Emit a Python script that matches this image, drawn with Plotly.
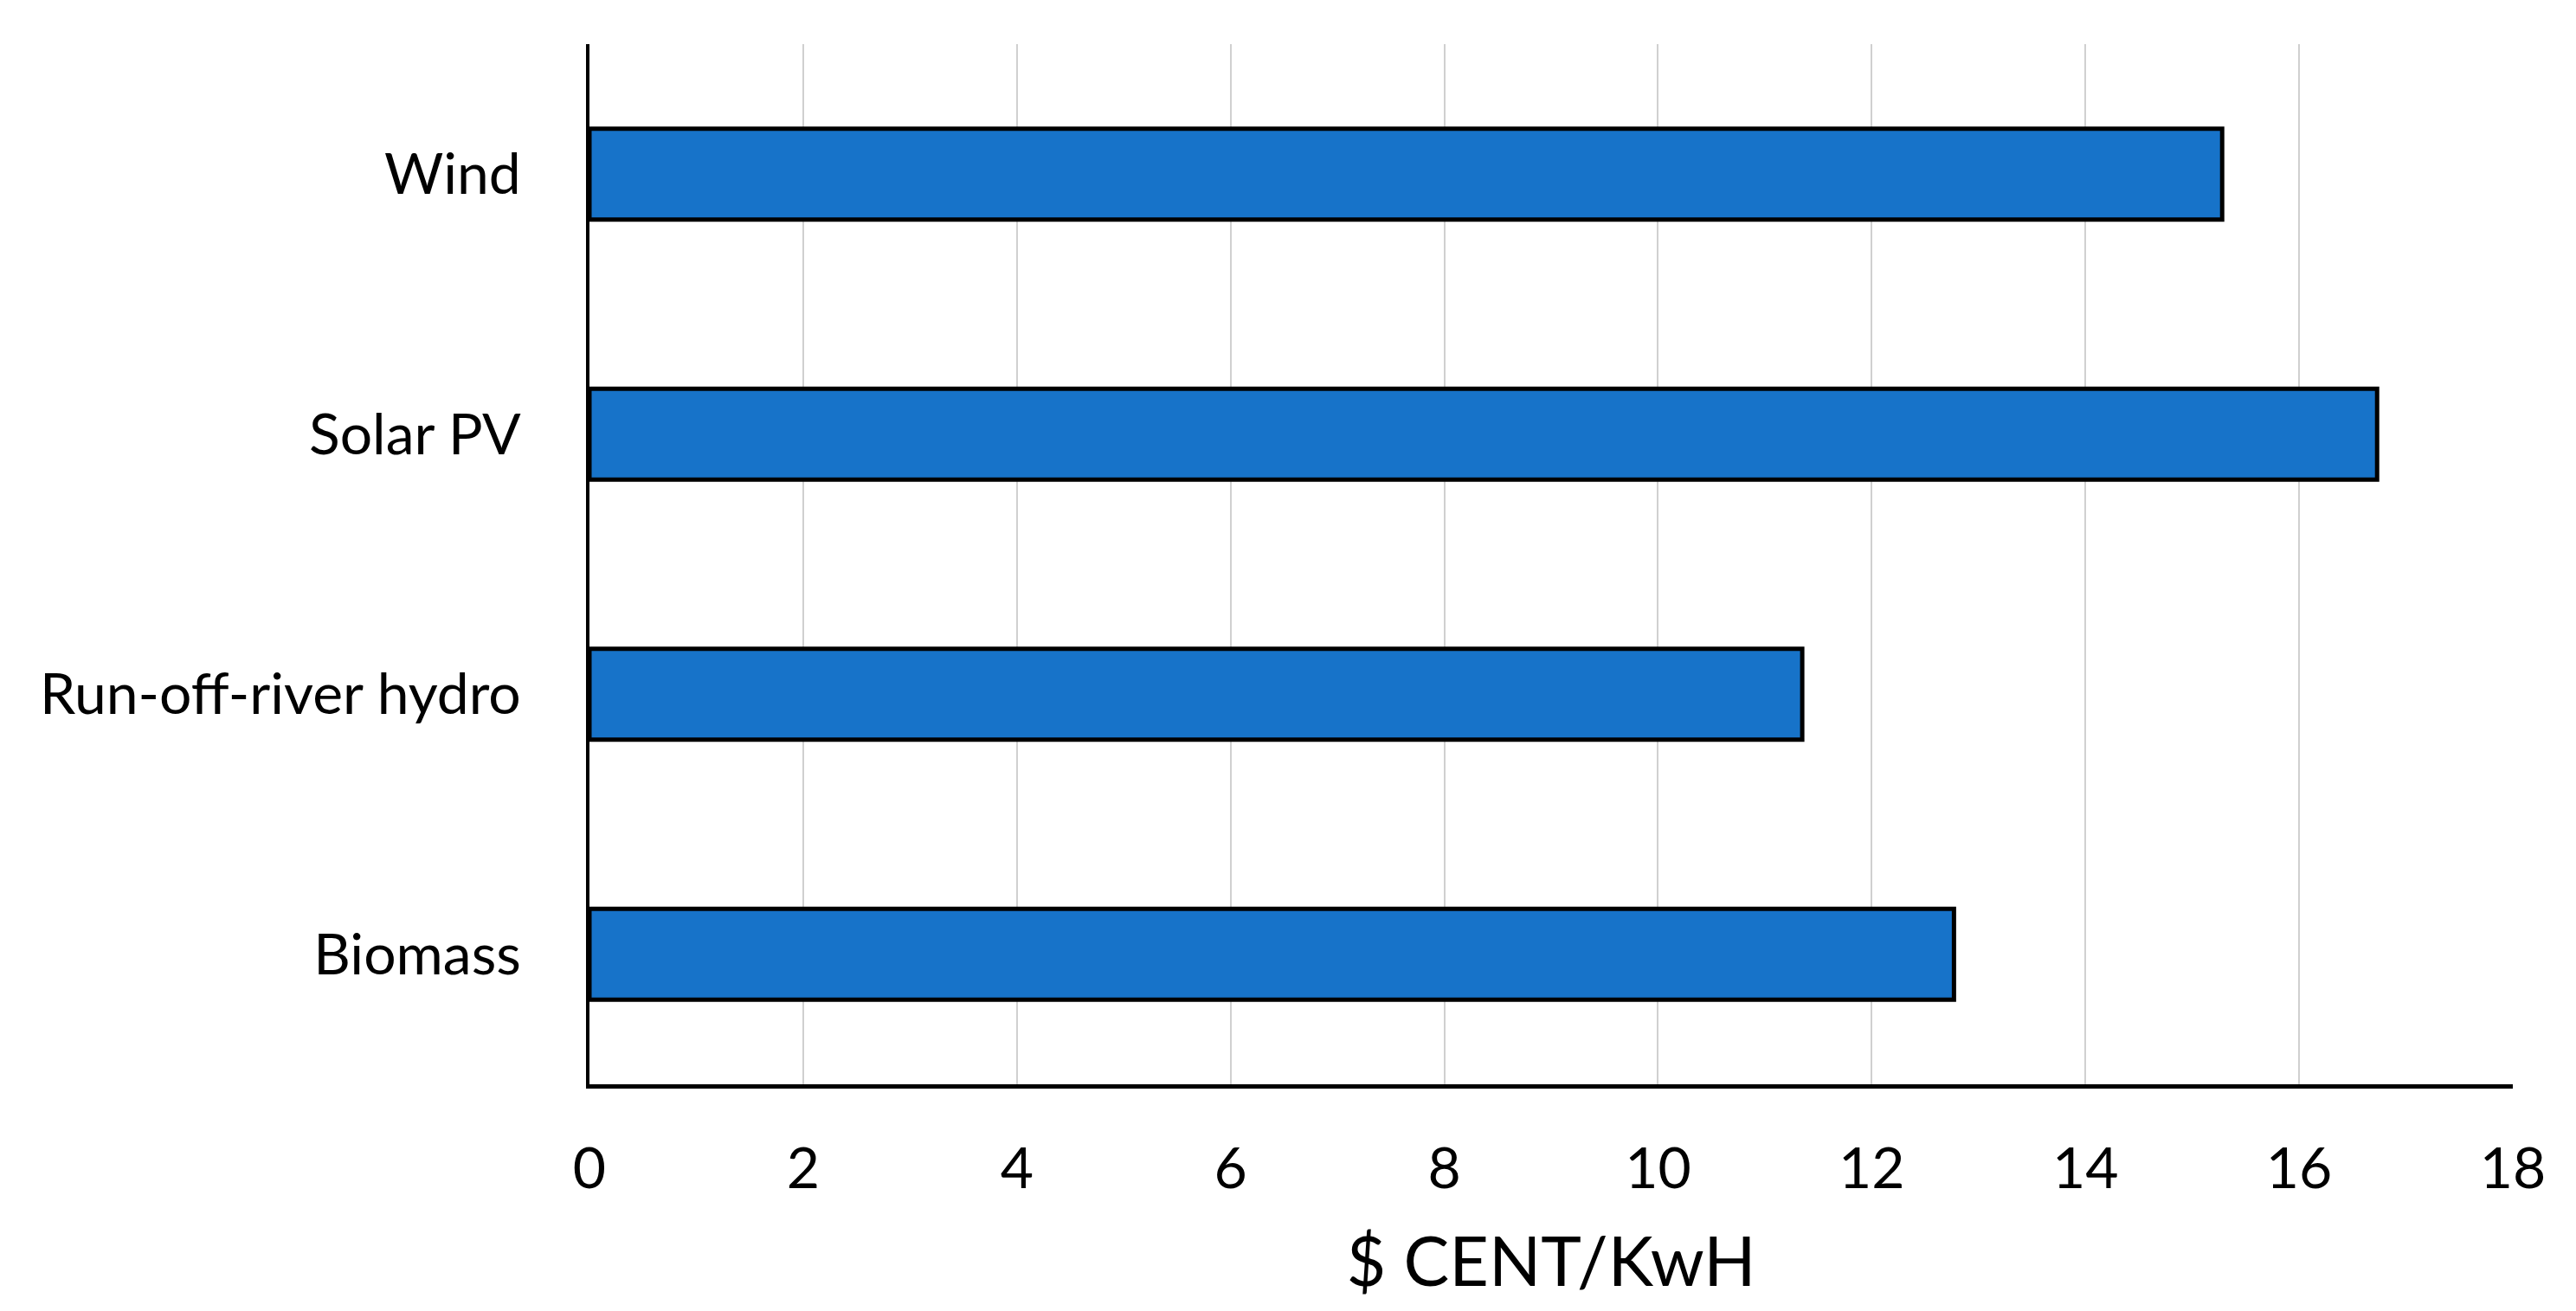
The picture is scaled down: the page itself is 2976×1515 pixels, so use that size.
import plotly.graph_objects as go

categories = ["Biomass", "Run-off-river hydro", "Solar PV", "Wind"]
cost = [12.77, 11.35, 16.73, 15.28]
x_ticks = [0, 2, 4, 6, 8, 10, 12, 14, 16, 18]

fig = go.Figure()
fig.add_trace(go.Bar(
    y=categories, x=cost, orientation="h",
    width=0.35,
    marker=dict(color="#1773C9", line=dict(color="black", width=5)),
))

fig.update_layout(
    width=2976, height=1515,
    margin=dict(l=673, r=81, t=43, b=270),
    plot_bgcolor="white", paper_bgcolor="white",
    font=dict(family="Lato", size=66, color="black"),
    showlegend=False,
)
fig.update_xaxes(
    range=[0, 18], tickvals=x_ticks,
    showgrid=True, gridcolor="#d0d0d0", gridwidth=2,
    showline=True, linecolor="black", linewidth=5,
    zeroline=False, ticks="", ticklabelstandoff=36,
    title=dict(text="$ CENT/KwH", standoff=46),
)
fig.update_yaxes(
    range=[-0.5, 3.5],
    showgrid=False, showline=True, linecolor="black", linewidth=4,
    ticks="", ticklabelstandoff=62,
)

fig.write_html("out.html")
